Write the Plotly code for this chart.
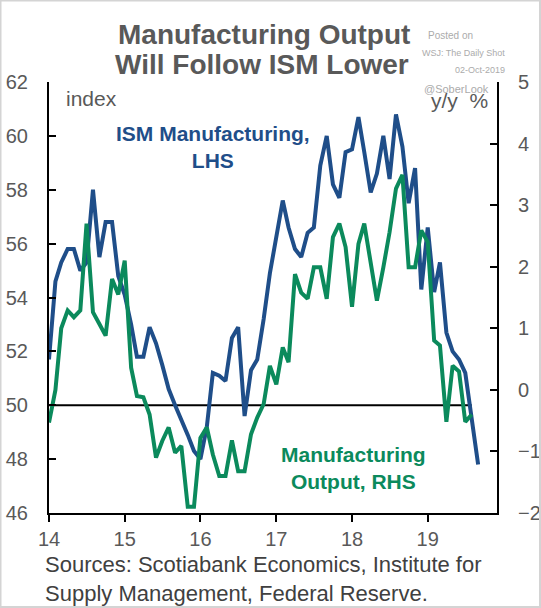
import pandas as pd
import plotly.graph_objects as go

# ---------------- data ----------------
ism_start = "2014-01-01"
ism_values = [
    51.7, 54.6, 55.3, 55.8, 55.8, 55.0, 55.3, 58.0, 55.5, 56.8, 56.8, 54.8,   # 2014
    54.1, 53.0, 51.8, 51.8, 52.9, 52.3, 51.5, 50.6, 50.0, 49.5, 48.9, 48.3,   # 2015
    48.0, 49.2, 51.2, 51.1, 50.9, 52.5, 52.9, 49.6, 51.3, 51.7, 53.2, 54.9,   # 2016
    56.2, 57.6, 56.6, 55.8, 55.5, 56.4, 56.6, 58.9, 60.0, 58.2, 57.7, 59.4,   # 2017
    59.5, 60.7, 59.4, 57.9, 58.6, 60.0, 58.4, 60.8, 59.6, 57.5, 58.8, 54.3,   # 2018
    56.6, 54.2, 55.3, 52.7, 52.0, 51.7, 51.2, 49.6, 47.8,                     # 2019
]
output_values = [
    -0.53, 0.00, 1.00, 1.29, 1.18, 1.29, 2.70, 1.26, 1.07, 0.88, 1.80, 1.55,  # 2014
    2.10, 0.36, -0.10, -0.12, -0.40, -1.10, -0.83, -0.61, -1.02, -0.91, -1.90, -1.90,  # 2015
    -0.78, -0.61, -1.05, -1.40, -1.40, -0.82, -1.32, -1.32, -0.72, -0.45, -0.23, 0.39,  # 2016
    0.09, 0.69, 0.45, 1.88, 1.58, 1.48, 1.99, 1.99, 1.48, 2.48, 2.70, 2.32,   # 2017
    1.35, 2.37, 2.70, 2.05, 1.45, 1.99, 2.56, 3.27, 3.49, 1.99, 1.99, 2.59,   # 2018
    2.40, 0.80, 0.72, -0.52, 0.39, 0.30, -0.52, -0.40,                        # 2019
]
reference_level = 50
year_ticks = ["2014-01-01", "2015-01-01", "2016-01-01", "2017-01-01", "2018-01-01", "2019-01-01"]
year_labels = ["14", "15", "16", "17", "18", "19"]
x_range = ["2014-01-01", "2019-12-01"]
lhs_range = [46, 62]
rhs_range = [-2, 5]

ism_dates = pd.date_range(ism_start, periods=len(ism_values), freq="MS")
output_dates = pd.date_range(ism_start, periods=len(output_values), freq="MS")

# ---------------- styling ----------------
W, H = 541, 608
ML, MR, MT, MB = 49, 44, 82, 95
PW, PH = W - ML - MR, H - MT - MB
BLUE = "#1F4E89"
GREEN = "#0B8A5C"
GREY = "#595959"
FONT = "Liberation Sans, Arial, sans-serif"


def px(x):
    return (x - ML) / PW


def py(y):
    return (H - MB - y) / PH


fig = go.Figure()
fig.add_trace(go.Scatter(x=output_dates, y=[reference_level] * len(output_dates),
                         mode="lines", line=dict(color="black", width=2),
                         hoverinfo="skip", showlegend=False))
fig.add_trace(go.Scatter(x=ism_dates, y=ism_values, mode="lines",
                         line=dict(color=BLUE, width=4), name="ISM Manufacturing, LHS",
                         showlegend=False))
fig.add_trace(go.Scatter(x=output_dates, y=output_values, mode="lines", yaxis="y2",
                         line=dict(color=GREEN, width=4), name="Manufacturing Output, RHS",
                         showlegend=False))

axis_common = dict(showline=True, linecolor="black", linewidth=2, showgrid=False,
                   zeroline=False, tickcolor="black", tickwidth=2, automargin=False,
                   tickfont=dict(family=FONT, size=20, color=GREY))

fig.update_layout(
    width=W, height=H,
    margin=dict(l=ML, r=MR, t=MT, b=MB),
    paper_bgcolor="white", plot_bgcolor="white",
    xaxis=dict(type="date", range=x_range, tickvals=year_ticks, ticktext=year_labels,
               ticks="outside", ticklen=7, **axis_common),
    yaxis=dict(range=lhs_range, dtick=2, ticks="inside", ticklen=7,
               ticklabelstandoff=15, **axis_common),
    yaxis2=dict(range=rhs_range, dtick=1, ticks="inside", ticklen=7, overlaying="y",
                side="right", ticklabelstandoff=15, **axis_common),
)

ann = []


def add_text(text, x, y, size, color, bold=False, xanchor="center", yanchor="middle", align="center"):
    ann.append(dict(text=f"<b>{text}</b>" if bold else text, x=px(x), y=py(y),
                    xref="paper", yref="paper", showarrow=False,
                    xanchor=xanchor, yanchor=yanchor, align=align,
                    font=dict(family=FONT, size=size, color=color)))


add_text("Manufacturing Output", 264, 34, 28, GREY, bold=True)
add_text("Will Follow ISM Lower", 262, 64, 28, GREY, bold=True)
add_text("Posted on", 426, 36, 10, "#ABABAB", xanchor="left")
add_text("WSJ: The Daily Shot", 507, 53, 9, "#ABABAB", xanchor="right")
add_text("02-Oct-2019", 507, 70, 9, "#ABABAB", xanchor="right")
add_text("@SoberLook", 422, 89, 11, "#ABABAB", xanchor="left")
add_text("index", 64, 98, 21, GREY, xanchor="left")
add_text("y/y  %", 490, 100, 21, GREY, xanchor="right")
add_text("ISM Manufacturing,<br>LHS", 213, 147, 21, BLUE, bold=True)
add_text("Manufacturing<br>Output, RHS", 353, 468, 21, GREEN, bold=True)
add_text("Sources: Scotiabank Economics, Institute for<br>Supply Management, Federal Reserve.",
         43, 579, 22, "#404040", xanchor="left", align="left")

fig.update_layout(annotations=ann)
fig.add_shape(type="rect", xref="paper", yref="paper",
              x0=px(0.5), x1=px(540), y0=py(607), y1=py(0.5),
              line=dict(color="#D4D4D4", width=2), fillcolor="rgba(0,0,0,0)", layer="above")

fig.write_html("out.html")
